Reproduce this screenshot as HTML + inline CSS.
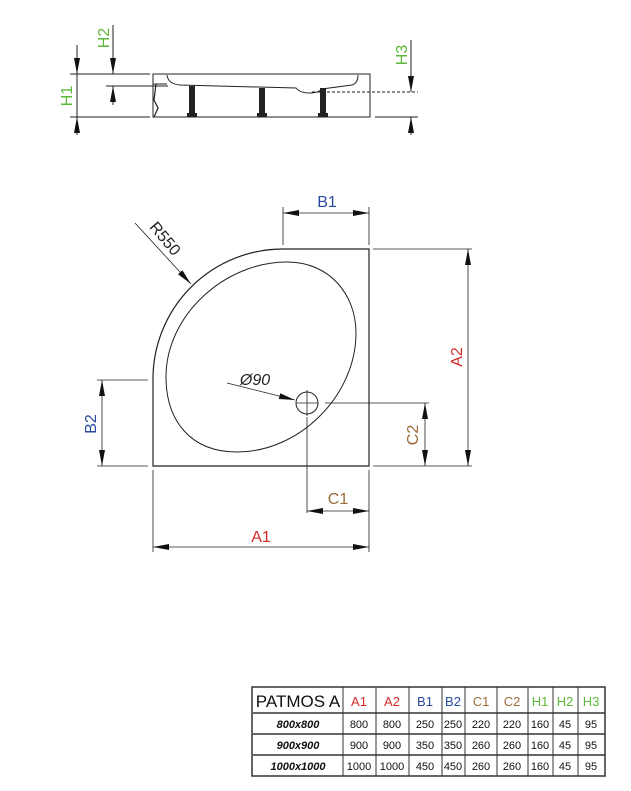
<!DOCTYPE html>
<html><head><style>
html,body{margin:0;padding:0;background:#fff;}
svg{display:block;}
text{font-family:"Liberation Sans",Arial,sans-serif;}
</style></head><body>
<svg width="631" height="791" viewBox="0 0 631 791" xmlns="http://www.w3.org/2000/svg">
<defs>
<marker id="a" viewBox="0 0 16 6" refX="16" refY="3" markerWidth="16" markerHeight="6" orient="auto-start-reverse" markerUnits="userSpaceOnUse"><path d="M0,0 L16,3 L0,6 z" fill="#111"/></marker>
</defs>
<g stroke="#222" stroke-width="1" fill="none">
<rect x="153" y="74" width="217" height="43"/>
<path d="M153 84 L167 84"/>
<path d="M167 75 Q168 84 180 85 L296 88 Q300 93 310 93 Q318 93 322 89 L352 85 Q358 83 358 75"/>
<path d="M156 84 L154 100 L158 108 L154 117" stroke-width="1.2"/>
<path d="M70 74 L150 74 M70 117 L150 117"/>
<path d="M106 86 L168 86"/>
<path d="M375 117 L418 117"/>
<path d="M312 92 L418 92" stroke-dasharray="3,2"/>
<path d="M77 45 L77 74" marker-end="url(#a)"/>
<path d="M77 74 L77 117"/>
<path d="M77 135 L77 117" marker-end="url(#a)"/>
<path d="M113 25 L113 74" marker-end="url(#a)"/>
<path d="M113 105 L113 86" marker-end="url(#a)"/>
<path d="M411 40 L411 92" marker-end="url(#a)"/>
<path d="M411 135 L411 117" marker-end="url(#a)"/>
</g>
<g fill="#222">
<rect x="189" y="86" width="6" height="31"/><rect x="259" y="88" width="6" height="29"/><rect x="320" y="88" width="6" height="29"/>
<rect x="187" y="113" width="10" height="4"/><rect x="257" y="113" width="10" height="4"/><rect x="318" y="113" width="10" height="4"/>
</g>
<g font-size="16" fill="#5db83a">
<text transform="translate(72,96) rotate(-90)" text-anchor="middle">H1</text>
<text transform="translate(109,38) rotate(-90)" text-anchor="middle">H2</text>
<text transform="translate(407,55) rotate(-90)" text-anchor="middle">H3</text>
</g>
<g stroke="#222" stroke-width="1.2" fill="none">
<path d="M283 249 L369 249 L369 466 L153 466 L153 380 A130 130 0 0 1 283 249 Z"/>
<path d="M287 262 C330 262 356 295 356 333 C356 395 300 452 237 452 C190 452 166 420 166 377 C166 315 225 262 287 262 Z" stroke-width="1"/>
<circle cx="307" cy="403" r="11" stroke-width="1"/>
</g>
<g stroke="#222" stroke-width="0.8" fill="none">
<path d="M307 390 L307 416 M296 403 L318 403"/>
<path d="M283 245 L283 207 M369 245 L369 207"/>
<path d="M283 213 L369 213" marker-start="url(#a)" marker-end="url(#a)"/>
<path d="M97 380 L148 380 M97 466 L148 466"/>
<path d="M102 380 L102 466" marker-start="url(#a)" marker-end="url(#a)"/>
<path d="M373 249 L472 249 M373 466 L472 466"/>
<path d="M468 249 L468 466" marker-start="url(#a)" marker-end="url(#a)"/>
<path d="M325 403 L429 403"/>
<path d="M425 403 L425 466" marker-start="url(#a)" marker-end="url(#a)"/>
<path d="M307 417 L307 513"/>
<path d="M307 511 L369 511" marker-start="url(#a)" marker-end="url(#a)"/>
<path d="M153 470 L153 552 M369 470 L369 552"/>
<path d="M153 547 L369 547" marker-start="url(#a)" marker-end="url(#a)"/>
<path d="M135 223 L191 284" marker-end="url(#a)"/>
<path d="M227 383 L295 400" marker-end="url(#a)"/>
</g>
<g font-size="16">
<text x="327" y="207" text-anchor="middle" fill="#2a4aa0">B1</text>
<text transform="translate(96,424) rotate(-90)" text-anchor="middle" fill="#2a4aa0">B2</text>
<text transform="translate(462,357) rotate(-90)" text-anchor="middle" fill="#d42a2a">A2</text>
<text transform="translate(418,435) rotate(-90)" text-anchor="middle" fill="#9a6a3a">C2</text>
<text x="338" y="504" text-anchor="middle" fill="#9a6a3a">C1</text>
<text x="261" y="542" text-anchor="middle" fill="#d42a2a">A1</text>
<text transform="translate(161,242) rotate(50)" text-anchor="middle" fill="#222" font-size="16">R550</text>
<text x="255" y="385" text-anchor="middle" fill="#222" font-style="italic" font-size="16">Ø90</text>
</g>
<g stroke="#333" fill="none">
<rect x="252" y="687" width="353" height="89" stroke-width="1.5"/>
<path d="M253 713 L605 713 M253 734 L605 734 M253 755 L605 755" stroke-width="1.5"/>
<path d="M343 687V776 M376 687V776 M409 687V776 M442 687V776 M465 687V776 M497 687V776 M528 687V776 M553 687V776 M578 687V776" stroke-width="1"/>
</g>
<text x="298" y="707" text-anchor="middle" font-size="17" fill="#111">PATMOS A</text>
<g font-size="13" text-anchor="middle">
<text x="359" y="706" fill="#d42a2a">A1</text><text x="392" y="706" fill="#d42a2a">A2</text>
<text x="425" y="706" fill="#2a4aa0">B1</text><text x="453" y="706" fill="#2a4aa0">B2</text>
<text x="481" y="706" fill="#9a6a3a">C1</text><text x="512" y="706" fill="#9a6a3a">C2</text>
<text x="540" y="706" fill="#5db83a">H1</text><text x="565" y="706" fill="#5db83a">H2</text><text x="591" y="706" fill="#5db83a">H3</text>
</g>
<g font-size="11" fill="#111" text-anchor="middle">
<g font-weight="bold" font-style="italic">
<text x="298" y="728">800x800</text><text x="298" y="749">900x900</text><text x="298" y="770">1000x1000</text>
</g>
<text x="359" y="728">800</text><text x="392" y="728">800</text><text x="425" y="728">250</text><text x="453" y="728">250</text><text x="481" y="728">220</text><text x="512" y="728">220</text><text x="540" y="728">160</text><text x="565" y="728">45</text><text x="591" y="728">95</text>
<text x="359" y="749">900</text><text x="392" y="749">900</text><text x="425" y="749">350</text><text x="453" y="749">350</text><text x="481" y="749">260</text><text x="512" y="749">260</text><text x="540" y="749">160</text><text x="565" y="749">45</text><text x="591" y="749">95</text>
<text x="359" y="770">1000</text><text x="392" y="770">1000</text><text x="425" y="770">450</text><text x="453" y="770">450</text><text x="481" y="770">260</text><text x="512" y="770">260</text><text x="540" y="770">160</text><text x="565" y="770">45</text><text x="591" y="770">95</text>
</g>
</svg>
</body></html>
